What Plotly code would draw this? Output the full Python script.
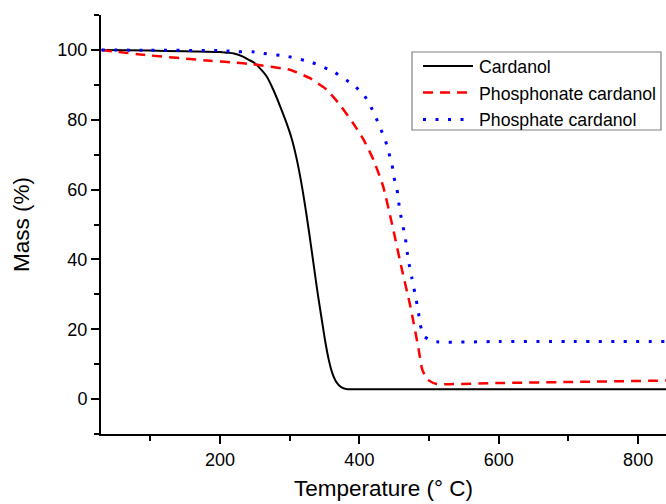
import plotly.graph_objects as go

# Cardanol
t_card = [30, 100, 150, 200, 210, 220, 233, 240, 250, 257, 267, 276, 286, 295, 303, 310, 316, 322, 328, 334, 340, 346, 351, 356, 361, 366, 371, 376, 381, 388, 400, 500, 600, 700, 840]
m_card = [100, 99.8, 99.6, 99.4, 99.2, 99.0, 98.1, 97.3, 96.2, 94.8, 92.4, 88.8, 84.0, 79.3, 74.5, 68.8, 62.7, 55.5, 47.5, 39.0, 30.5, 22.8, 16.5, 11.3, 7.5, 5.2, 3.9, 3.2, 2.9, 2.8, 2.8, 2.8, 2.8, 2.8, 2.8]

# Phosphonate cardanol
t_phon = [30, 90, 186, 219, 247, 300, 329, 353, 372, 391, 406, 420, 434, 447, 461, 473, 485, 490, 497, 511, 535, 600, 700, 840]
m_phon = [100, 98.6, 96.9, 96.4, 95.9, 94.3, 91.9, 88.6, 84.3, 79.0, 74.3, 68.6, 61.0, 50.0, 37.1, 26.7, 14.3, 8.6, 5.7, 4.3, 4.3, 4.6, 4.9, 5.3]

# Phosphate cardanol
t_phat = [30, 100, 200, 226, 246, 262, 298, 332, 365, 391, 406, 415, 423, 430, 437, 442, 447, 449, 454, 458, 466, 470, 475, 480, 485, 487, 493, 506, 600, 700, 840]
m_phat = [100, 99.9, 99.8, 99.5, 99.5, 99.0, 98.1, 96.4, 93.5, 90.0, 87.3, 84.3, 81.0, 77.6, 74.3, 70.7, 67.0, 64.0, 60.0, 54.0, 46.0, 40.0, 35.0, 30.0, 24.5, 21.5, 18.0, 16.5, 16.5, 16.5, 16.5]

series_names = ["Cardanol", "Phosphonate cardanol", "Phosphate cardanol"]
x_major = [200, 400, 600, 800]
y_major = [0, 20, 40, 60, 80, 100]

FONT = "Arial, Liberation Sans, sans-serif"
styles = [
    dict(color="black", width=2),
    dict(color="#ff0000", width=2.5, dash="10px,7px"),
    dict(color="#0000ff", width=3, dash="3px,9.5px"),
]
smooth = [0.9, 0.5, 0.5]

fig = go.Figure()
for tx, my, nm, st, sm in zip([t_card, t_phon, t_phat], [m_card, m_phon, m_phat], series_names, styles, smooth):
    fig.add_trace(go.Scatter(x=tx, y=my, mode="lines", name=nm,
                             line=dict(**st, shape="spline", smoothing=sm), showlegend=False))

# legend drawn in paper coordinates
W, H, L, T = 565.0, 419.0, 101.0, 15.0
def px(xp): return (xp - L) / W
def py(yp): return 1 - (yp - T) / H

fig.add_shape(type="rect", xref="paper", yref="paper",
              x0=px(412), x1=px(661), y0=py(130), y1=py(52),
              line=dict(color="#808080", width=1.2), fillcolor="white", layer="above")
row_y = [66, 92.5, 119.5]
for ry, nm, st in zip(row_y, series_names, styles):
    fig.add_shape(type="line", xref="paper", yref="paper",
                  x0=px(423), x1=px(473), y0=py(ry), y1=py(ry),
                  line=st, layer="above")
    fig.add_annotation(xref="paper", yref="paper", x=px(477), y=py(ry + 1),
                       xanchor="left", yanchor="middle", text=nm, showarrow=False,
                       font=dict(size=17.7, family=FONT, color="black"))

fig.update_layout(
    width=666, height=504,
    margin=dict(l=101, r=0, t=15, b=70),
    paper_bgcolor="white", plot_bgcolor="white",
    font=dict(family=FONT, color="black", size=18),
    showlegend=False,
)
fig.update_xaxes(
    range=[29.2, 840], showgrid=False, zeroline=False,
    showline=True, linecolor="black", linewidth=2,
    ticks="outside", ticklen=8, tickwidth=1.5, tickcolor="black",
    tickvals=x_major, ticktext=[str(v) for v in x_major],
    minor=dict(ticks="outside", ticklen=5, tickwidth=1.5, tickcolor="black", dtick=100, tick0=0, showgrid=False),
    title=dict(text="Temperature (° C)", font=dict(size=22.5), standoff=12),
)
fig.update_yaxes(
    range=[-10, 110], showgrid=False, zeroline=False,
    showline=True, linecolor="black", linewidth=2,
    ticks="outside", ticklen=8, tickwidth=1.5, tickcolor="black",
    tickvals=y_major, ticktext=[str(v) for v in y_major],
    minor=dict(ticks="outside", ticklen=5, tickwidth=1.5, tickcolor="black", dtick=10, tick0=0, showgrid=False),
    title=dict(text="Mass (%)", font=dict(size=22.5), standoff=21),
)

fig.write_html("out.html")
